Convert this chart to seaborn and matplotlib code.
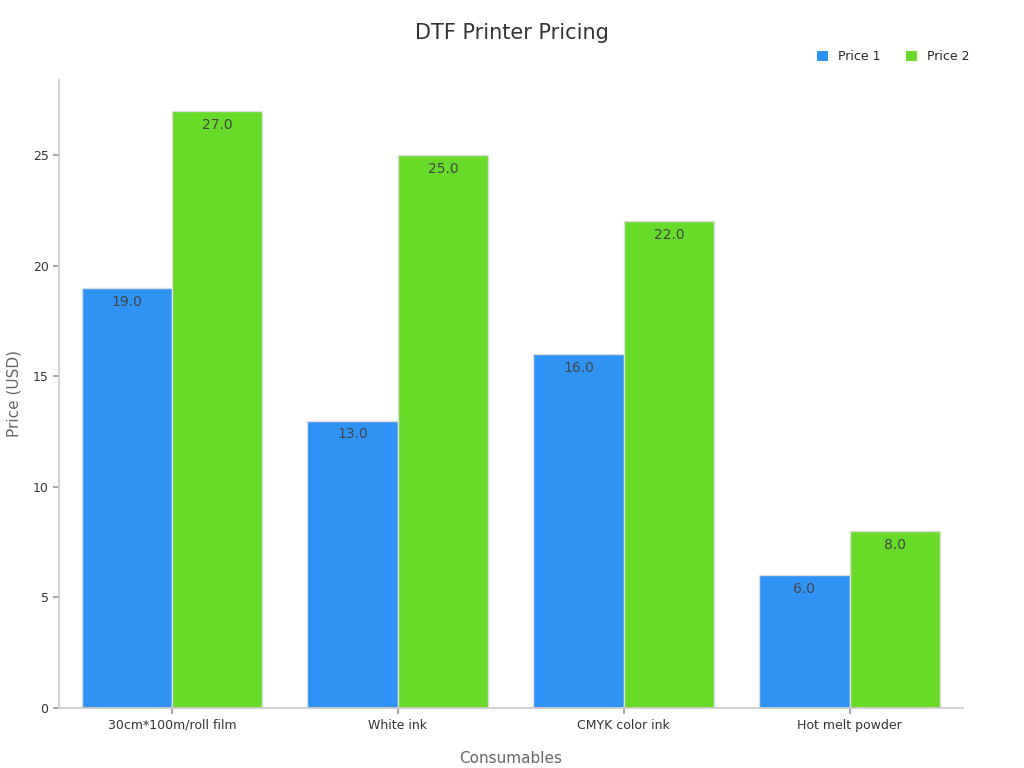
import matplotlib
matplotlib.use("Agg")
import matplotlib.pyplot as plt
import seaborn as sns
import pandas as pd

categories = ["30cm*100m/roll film", "White ink", "CMYK color ink", "Hot melt powder"]
price1 = [19.0, 13.0, 16.0, 6.0]
price2 = [27.0, 25.0, 22.0, 8.0]

df = pd.DataFrame({
    "Consumables": categories * 2,
    "Price": price1 + price2,
    "Series": ["Price 1"] * 4 + ["Price 2"] * 4,
})

sns.set_theme(style="white")
plt.rcParams['font.family'] = ['DejaVu Sans']
fig = plt.figure(figsize=(10.24, 7.68), dpi=100)
ax = fig.add_axes([0.0576, 0.078, 0.8824, 0.818])
sns.barplot(data=df, x="Consumables", y="Price", hue="Series",
            palette=["#2F93F5", "#67DB28"], edgecolor="#dddddd", linewidth=1,
            width=0.8, ax=ax, saturation=1)
for c in ax.containers:
    ax.bar_label(c, fmt="%.1f", padding=-15, color="#444444", fontsize=10)
ax.set_ylim(0, 28.4)
ax.set_xlim(-0.5, 3.5)
ax.set_yticks([0, 5, 10, 15, 20, 25])
for s in ["top", "right"]:
    ax.spines[s].set_visible(False)
for s in ["left", "bottom"]:
    ax.spines[s].set_color("#cccccc")
ax.tick_params(axis="both", labelsize=9, colors="#333333", length=4, left=True, bottom=True)
ax.tick_params(axis="both", color="#999999")
ax.set_xlabel("Consumables", fontsize=11, color="#666666", labelpad=14)
ax.set_ylabel("Price (USD)", fontsize=11, color="#666666", labelpad=8)
fig.text(0.5, 0.957, "DTF Printer Pricing", ha="center", va="center", fontsize=15, color="#333333")
leg = ax.legend(loc="upper right", bbox_to_anchor=(1.02, 1.065), ncol=2, frameon=False,
                fontsize=9, handlelength=0.9, handleheight=0.9, columnspacing=2)
for h in leg.legend_handles:
    h.set_edgecolor("none")
fig.savefig("out.png", dpi=100)
